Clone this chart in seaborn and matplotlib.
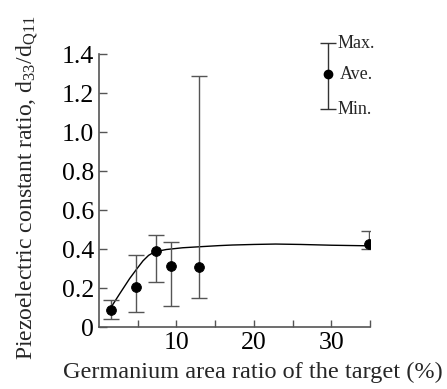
import matplotlib
matplotlib.use("Agg")
import matplotlib.pyplot as plt
import seaborn as sns
import pandas as pd
import numpy as np

sns.set_theme(style="ticks")
plt.rcParams['font.family'] = ['Liberation Serif', 'DejaVu Serif']
plt.rcParams['mathtext.fontset'] = 'custom'
plt.rcParams['mathtext.rm'] = 'Liberation Serif'
plt.rcParams['mathtext.it'] = 'Liberation Serif:italic'

# Measured points
ge_ratio = [1.6, 4.8, 7.3, 9.3, 12.9, 34.8]
d_ave = [0.086, 0.204, 0.39, 0.314, 0.309, 0.424]
d_max = [0.137, 0.369, 0.47, 0.437, 1.29, 0.494]
d_min = [0.043, 0.078, 0.229, 0.108, 0.147, 0.40]

# Fitted trend curve
curve_x = [1.54, 2.7, 3.97, 4.83, 5.68, 6.4, 7.18, 8.68, 10.8, 12.9, 15.5, 17.2, 20.0, 22.8, 26.0, 30.0, 34.8]
curve_y = [0.101, 0.173, 0.25, 0.296, 0.34, 0.368, 0.386, 0.398, 0.407, 0.412, 0.418, 0.421, 0.424, 0.426, 0.424, 0.42, 0.417]

# Legend key sample
key_x = [29.6]
key_ave = [1.297]
key_max = [1.456]
key_min = [1.118]
key_labels = ["Max.", "Ave.", "Min."]

y_ticks = [0, 0.2, 0.4, 0.6, 0.8, 1.0, 1.2, 1.4]
y_ticklabels = ["0", "0.2", "0.4", "0.6", "0.8", "1.0", "1.2", "1.4"]
x_ticks = [5, 10, 15, 20, 25, 30, 35]
x_ticklabels = ["", "10", "", "20", "", "30", ""]

fig = plt.figure(figsize=(4.47, 3.89), dpi=100)
ax = fig.add_axes([0.2215, 0.159, 0.6065, 0.702])

df_curve = pd.DataFrame({"x": curve_x, "y": curve_y})
sns.lineplot(data=df_curve, x="x", y="y", sort=False, color="black", linewidth=1.0, ax=ax)

df = pd.DataFrame({"x": ge_ratio, "ave": d_ave, "max": d_max, "min": d_min})
yerr = np.array([df["ave"] - df["min"], df["max"] - df["ave"]])
ax.errorbar(df["x"], df["ave"], yerr=yerr, fmt="none", ecolor="#555555",
            elinewidth=1.0, capsize=6, capthick=1.0, zorder=2)
sns.scatterplot(data=df, x="x", y="ave", color="black", s=50, edgecolor="black", ax=ax, zorder=3)

# legend key
kerr = np.array([[key_ave[0] - key_min[0]], [key_max[0] - key_ave[0]]])
ax.errorbar(key_x, key_ave, yerr=kerr, fmt="o", color="black", ecolor="#333333", ms=6,
            elinewidth=1.0, capsize=6, capthick=1.0, clip_on=False)
for val, lab in zip([key_max[0], key_ave[0], key_min[0]], key_labels):
    ax.text(key_x[0] + 1.2 if lab != "Ave." else key_x[0] + 1.5, val, lab, fontsize=13,
            va="center", ha="left", clip_on=False)

ax.set_xlim(0, 35)
ax.set_ylim(0, 1.4)
ax.set_yticks(y_ticks)
ax.set_yticklabels(y_ticklabels)
ax.set_xticks(x_ticks)
ax.set_xticklabels(x_ticklabels)
ax.tick_params(direction="in", length=6, width=1, colors="#555555", labelcolor="black", labelsize=18.5)
ax.tick_params(axis="x", length=5)
for side in ["top", "right"]:
    ax.spines[side].set_visible(False)
for side in ["left", "bottom"]:
    ax.spines[side].set_color("#555555")
    ax.spines[side].set_linewidth(1.2)

ax.set_xlabel("Germanium area ratio of the target (%)", fontsize=17.5)
ax.set_ylabel("Piezoelectric constant ratio, d$_{33}$/d$_{\\mathrm{Q11}}$", fontsize=17)
ax.xaxis.set_label_coords(0.568, -0.165)
ax.yaxis.set_label_coords(-0.266, 0.51)
ax.yaxis.label.set_verticalalignment("center")
ax.xaxis.label.set_verticalalignment("center")

fig.savefig("out.png", dpi=100)
